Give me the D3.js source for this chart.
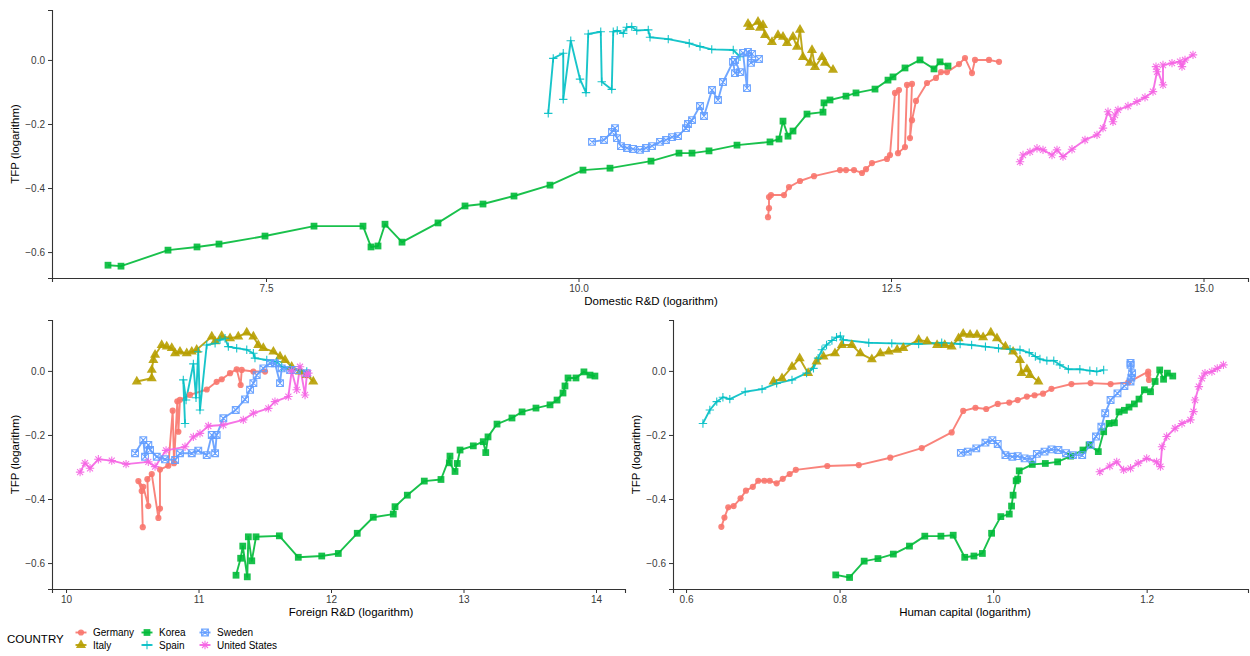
<!DOCTYPE html>
<html>
<head>
<meta charset="utf-8">
<script src="https://cdn.jsdelivr.net/npm/d3@7"></script>
<style>
  body { margin: 0; background: #fff; }
  text { font-family: "Liberation Sans", Arial, sans-serif; }
</style>
</head>
<body>
<div id="chart"></div>
<script>
// country order, colours and shapes follow the ggplot default hue palette
const countries = ["Germany", "Italy", "Korea", "Spain", "Sweden", "United States"];
const colors = ["#F8766D", "#B79F00", "#00BA38", "#00BFC4", "#619CFF", "#F564E3"];
const shapes = ["circle", "triangle", "square", "plus", "boxcross", "asterisk"];

const yTicks = [0, -0.2, -0.4, -0.6];
const domTicks = [7.5, 10, 12.5, 15];
const forTicks = [10, 11, 12, 13, 14];
const humTicks = [0.6, 0.8, 1.0, 1.2];

// ---- Domestic R&D vs TFP ----
const germanyDom = [[11.516,-0.491],[11.524,-0.463],[11.524,-0.428],[11.54,-0.422],[11.644,-0.422],[11.684,-0.397],[11.772,-0.378],[11.884,-0.363],[12.092,-0.344],[12.14,-0.344],[12.204,-0.344],[12.268,-0.353],[12.3,-0.341],[12.348,-0.322],[12.468,-0.309],[12.492,-0.297],[12.532,-0.103],[12.564,-0.094],[12.556,-0.291],[12.612,-0.272],[12.628,-0.078],[12.668,-0.075],[12.652,-0.244],[12.668,-0.188],[12.70,-0.128],[12.788,-0.072],[12.86,-0.056],[12.90,-0.038],[12.948,-0.038],[13.044,-0.013],[13.092,0.006],[13.148,-0.041],[13.172,0.0],[13.284,0.0],[13.364,-0.006]];
const italyDom = [[11.356,0.113],[11.372,0.103],[11.436,0.119],[11.452,0.1],[11.476,0.109],[11.492,0.078],[11.548,0.056],[11.596,0.078],[11.636,0.072],[11.668,0.053],[11.716,0.072],[11.748,0.041],[11.772,0.094],[11.796,0.009],[11.852,-0.009],[11.868,0.031],[11.892,-0.022],[11.948,0.009],[11.972,-0.009],[12.036,-0.031]];
const koreaDom = [[6.236,-0.641],[6.34,-0.644],[6.716,-0.594],[6.948,-0.584],[7.124,-0.575],[7.492,-0.55],[7.884,-0.519],[8.276,-0.519],[8.34,-0.584],[8.396,-0.581],[8.452,-0.513],[8.588,-0.569],[8.876,-0.509],[9.092,-0.456],[9.236,-0.45],[9.484,-0.425],[9.772,-0.391],[10.036,-0.344],[10.252,-0.338],[10.58,-0.316],[10.804,-0.291],[10.908,-0.291],[11.044,-0.284],[11.268,-0.266],[11.532,-0.256],[11.604,-0.247],[11.636,-0.191],[11.676,-0.238],[11.716,-0.222],[11.828,-0.169],[11.956,-0.163],[11.964,-0.134],[12.012,-0.125],[12.14,-0.113],[12.22,-0.103],[12.372,-0.091],[12.476,-0.063],[12.516,-0.053],[12.612,-0.025],[12.732,0.0],[12.844,-0.028],[12.892,-0.006],[12.956,-0.019]];
const spainDom = [[9.758,-0.167],[9.798,0.005],[9.878,0.021],[9.878,-0.123],[9.938,0.06],[10.012,-0.06],[10.06,-0.102],[10.078,0.081],[10.178,0.088],[10.186,-0.068],[10.266,-0.092],[10.278,0.088],[10.31,0.092],[10.358,0.083],[10.386,0.102],[10.426,0.104],[10.466,0.092],[10.558,0.094],[10.572,0.071],[10.718,0.065],[10.886,0.052],[10.972,0.042],[11.066,0.033],[11.238,0.031],[11.292,0.01]];
const swedenDom = [[10.108,-0.256],[10.204,-0.25],[10.268,-0.225],[10.292,-0.213],[10.308,-0.244],[10.34,-0.269],[10.388,-0.275],[10.436,-0.278],[10.492,-0.281],[10.54,-0.275],[10.588,-0.269],[10.652,-0.256],[10.70,-0.25],[10.748,-0.241],[10.796,-0.238],[10.86,-0.213],[10.876,-0.2],[10.908,-0.188],[10.972,-0.144],[11.004,-0.175],[11.068,-0.094],[11.116,-0.125],[11.156,-0.069],[11.236,-0.006],[11.252,-0.041],[11.292,-0.038],[11.252,0.0],[11.316,0.022],[11.348,-0.088],[11.356,0.025],[11.388,0.019],[11.38,-0.009],[11.444,0.003]];
const usDom = [[13.532,-0.318],[13.556,-0.297],[13.612,-0.287],[13.668,-0.276],[13.716,-0.281],[13.788,-0.297],[13.828,-0.281],[13.876,-0.302],[13.948,-0.279],[14.052,-0.25],[14.148,-0.234],[14.196,-0.213],[14.236,-0.162],[14.276,-0.193],[14.292,-0.172],[14.316,-0.156],[14.396,-0.144],[14.468,-0.13],[14.532,-0.117],[14.596,-0.099],[14.628,-0.037],[14.62,-0.021],[14.676,-0.078],[14.676,-0.016],[14.748,-0.01],[14.812,-0.005],[14.828,-0.021],[14.852,0.0],[14.916,0.016]];

// ---- Foreign R&D vs TFP ----
const germanyFor = [[10.579,-0.488],[10.571,-0.375],[10.546,-0.344],[10.583,-0.362],[10.621,-0.422],[10.614,-0.338],[10.647,-0.322],[10.697,-0.459],[10.709,-0.43],[10.709,-0.308],[10.772,-0.296],[10.805,-0.124],[10.815,-0.288],[10.84,-0.095],[10.848,-0.19],[10.86,-0.09],[10.936,-0.075],[11.062,-0.058],[11.137,-0.034],[11.175,-0.026],[11.238,-0.007],[11.288,0.005],[11.318,-0.044],[11.326,0.003],[11.414,-0.002],[11.502,-0.002]];
const italyFor = [[10.534,-0.033],[10.647,-0.023],[10.647,0.003],[10.659,0.034],[10.672,0.05],[10.722,0.081],[10.76,0.076],[10.798,0.071],[10.823,0.055],[10.86,0.06],[10.911,0.055],[10.949,0.06],[10.986,0.066],[11.1,0.107],[11.125,0.092],[11.175,0.109],[11.238,0.102],[11.3,0.107],[11.364,0.12],[11.414,0.107],[11.451,0.081],[11.489,0.071],[11.565,0.06],[11.615,0.045],[11.653,0.034],[11.703,0.013],[11.766,-0.002],[11.817,-0.013],[11.866,-0.033]];
const koreaFor = [[11.283,-0.638],[11.318,-0.585],[11.334,-0.547],[11.368,-0.643],[11.376,-0.518],[11.402,-0.593],[11.434,-0.518],[11.61,-0.515],[11.753,-0.582],[11.93,-0.578],[12.055,-0.57],[12.198,-0.507],[12.319,-0.457],[12.47,-0.447],[12.483,-0.424],[12.576,-0.388],[12.704,-0.344],[12.83,-0.339],[12.898,-0.266],[12.893,-0.287],[12.936,-0.314],[12.953,-0.289],[12.974,-0.247],[13.074,-0.234],[13.149,-0.221],[13.168,-0.255],[13.185,-0.206],[13.253,-0.166],[13.366,-0.147],[13.442,-0.128],[13.547,-0.116],[13.653,-0.106],[13.706,-0.091],[13.751,-0.069],[13.766,-0.047],[13.789,-0.022],[13.849,-0.022],[13.909,-0.003],[13.955,-0.013],[13.992,-0.016]];
const spainFor = [[10.898,-0.164],[10.885,-0.028],[10.906,-0.091],[10.961,0.022],[10.981,-0.084],[10.998,0.06],[11.011,-0.122],[11.062,0.081],[11.125,0.086],[11.162,0.097],[11.2,0.102],[11.225,0.076],[11.288,0.071],[11.364,0.066],[11.414,0.055],[11.426,0.04],[11.515,0.034],[11.59,0.029],[11.628,0.013],[11.691,0.008],[11.766,0.003],[11.817,-0.002]];
const swedenFor = [[10.521,-0.257],[10.583,-0.216],[10.596,-0.268],[10.621,-0.231],[10.634,-0.247],[10.685,-0.268],[10.747,-0.276],[10.823,-0.278],[10.86,-0.257],[10.949,-0.257],[10.998,-0.249],[11.062,-0.263],[11.1,-0.2],[11.125,-0.257],[11.137,-0.2],[11.187,-0.148],[11.281,-0.122],[11.351,-0.089],[11.389,-0.059],[11.414,-0.038],[11.439,-0.013],[11.489,0.008],[11.54,0.024],[11.577,0.024],[11.615,-0.038],[11.628,0.008],[11.691,0.003],[11.741,0.003],[11.817,-0.007]];
const usFor = [[10.106,-0.316],[10.143,-0.288],[10.181,-0.304],[10.244,-0.276],[10.345,-0.28],[10.453,-0.291],[10.621,-0.284],[10.672,-0.299],[10.755,-0.248],[10.898,-0.237],[10.961,-0.206],[11.011,-0.195],[11.074,-0.172],[11.187,-0.169],[11.338,-0.153],[11.414,-0.132],[11.527,-0.117],[11.577,-0.096],[11.678,-0.08],[11.703,0.0],[11.741,-0.059],[11.766,0.013],[11.804,-0.075],[11.817,-0.013],[11.829,-0.007]];

// ---- Human capital vs TFP ----
const germanyHum = [[0.646,-0.487],[0.65,-0.458],[0.655,-0.426],[0.662,-0.422],[0.671,-0.398],[0.678,-0.374],[0.687,-0.362],[0.694,-0.343],[0.702,-0.343],[0.709,-0.343],[0.718,-0.351],[0.726,-0.337],[0.735,-0.322],[0.743,-0.309],[0.784,-0.297],[0.825,-0.294],[0.866,-0.271],[0.907,-0.241],[0.946,-0.192],[0.961,-0.125],[0.977,-0.115],[0.991,-0.119],[1.006,-0.103],[1.021,-0.099],[1.032,-0.091],[1.044,-0.08],[1.054,-0.076],[1.065,-0.071],[1.076,-0.056],[1.102,-0.041],[1.127,-0.038],[1.153,-0.041],[1.176,-0.036],[1.202,-0.002],[1.203,-0.028],[1.202,-0.012]];
const italyHum = [[0.714,-0.033],[0.725,-0.023],[0.738,0.013],[0.748,0.039],[0.759,-0.007],[0.77,0.029],[0.779,0.045],[0.794,0.055],[0.803,0.081],[0.816,0.081],[0.827,0.055],[0.842,0.036],[0.853,0.055],[0.864,0.06],[0.875,0.066],[0.883,0.071],[0.903,0.097],[0.914,0.092],[0.927,0.081],[0.937,0.081],[0.946,0.076],[0.955,0.102],[0.961,0.116],[0.97,0.113],[0.979,0.113],[0.987,0.105],[0.997,0.12],[1.005,0.102],[1.016,0.076],[1.026,0.06],[1.035,0.034],[1.037,-0.007],[1.044,0.005],[1.048,-0.013],[1.059,-0.033]];
const koreaHum = [[0.795,-0.637],[0.813,-0.645],[0.832,-0.594],[0.85,-0.586],[0.87,-0.572],[0.891,-0.547],[0.911,-0.516],[0.932,-0.516],[0.948,-0.513],[0.963,-0.582],[0.975,-0.578],[0.986,-0.57],[0.998,-0.507],[1.01,-0.455],[1.021,-0.447],[1.024,-0.422],[1.026,-0.388],[1.03,-0.343],[1.032,-0.338],[1.034,-0.312],[1.051,-0.292],[1.068,-0.289],[1.084,-0.284],[1.101,-0.266],[1.117,-0.247],[1.125,-0.231],[1.137,-0.252],[1.144,-0.19],[1.151,-0.164],[1.158,-0.162],[1.164,-0.128],[1.171,-0.123],[1.177,-0.113],[1.184,-0.103],[1.19,-0.088],[1.197,-0.059],[1.205,-0.065],[1.211,-0.033],[1.217,0.003],[1.222,-0.026],[1.227,-0.007],[1.234,-0.016]];
const spainHum = [[0.622,-0.164],[0.631,-0.122],[0.64,-0.096],[0.648,-0.082],[0.657,-0.088],[0.677,-0.065],[0.699,-0.057],[0.718,-0.039],[0.738,-0.028],[0.757,-0.007],[0.766,0.008],[0.772,0.04],[0.777,0.066],[0.783,0.081],[0.79,0.095],[0.796,0.105],[0.801,0.109],[0.805,0.097],[0.838,0.088],[0.868,0.086],[0.903,0.084],[0.933,0.088],[0.957,0.084],[0.972,0.081],[0.99,0.076],[1.007,0.071],[1.022,0.068],[1.035,0.066],[1.047,0.057],[1.055,0.045],[1.061,0.037],[1.07,0.032],[1.079,0.032],[1.087,0.019],[1.098,0.005],[1.113,0.005],[1.126,0.001],[1.135,-0.002],[1.144,0.003]];
const swedenHum = [[0.958,-0.256],[0.967,-0.252],[0.978,-0.242],[0.99,-0.224],[0.999,-0.216],[1.006,-0.228],[1.016,-0.263],[1.025,-0.268],[1.032,-0.266],[1.041,-0.273],[1.051,-0.276],[1.057,-0.259],[1.067,-0.252],[1.076,-0.245],[1.085,-0.247],[1.095,-0.257],[1.104,-0.263],[1.116,-0.263],[1.127,-0.231],[1.134,-0.205],[1.141,-0.174],[1.146,-0.132],[1.153,-0.091],[1.162,-0.07],[1.171,-0.047],[1.179,-0.033],[1.181,-0.007],[1.179,0.019],[1.18,-0.021],[1.179,0.025]];
const usHum = [[1.139,-0.315],[1.152,-0.297],[1.161,-0.284],[1.17,-0.309],[1.179,-0.304],[1.189,-0.288],[1.2,-0.273],[1.213,-0.284],[1.218,-0.299],[1.22,-0.237],[1.226,-0.205],[1.237,-0.179],[1.246,-0.164],[1.257,-0.153],[1.261,-0.127],[1.263,-0.091],[1.268,-0.049],[1.272,-0.023],[1.276,-0.007],[1.285,-0.002],[1.292,0.008],[1.3,0.019]];

// panel layout (pixels) and the series each one shows
const panels = [
    { left: 52, right: 1248, top: 10, bottom: 278, xDomain: [5.788, 15.356], yDomain: [-0.681, 0.156],
      ticks: domTicks, fmt: ".1f", title: "Domestic R&D (logarithm)", titleX: 651,
      series: [germanyDom, italyDom, koreaDom, spainDom, swedenDom, usDom] },
    { left: 52, right: 625, top: 320, bottom: 589, xDomain: [9.894, 14.219], yDomain: [-0.681, 0.159],
      ticks: forTicks, fmt: "d", title: "Foreign R&D (logarithm)", titleX: 351,
      series: [germanyFor, italyFor, koreaFor, spainFor, swedenFor, usFor] },
    { left: 673, right: 1248, top: 320, bottom: 589, xDomain: [0.583, 1.332], yDomain: [-0.681, 0.159],
      ticks: humTicks, fmt: ".1f", title: "Human capital (logarithm)", titleX: 965,
      series: [germanyHum, italyHum, koreaHum, spainHum, swedenHum, usHum] }
];

const svg = d3.select("#chart").append("svg")
    .attr("width", 1250)
    .attr("height", 656);

// marker drawing
function markerPath(shape) {
    if (shape === "circle") return d3.symbol(d3.symbolCircle, 30)();
    if (shape === "triangle") return d3.symbol(d3.symbolTriangle, 44)();
    if (shape === "square") return d3.symbol(d3.symbolSquare, 46)();
    let r = 4.2, q = 3;
    if (shape === "plus") return `M${-r},0H${r}M0,${-r}V${r}`;
    if (shape === "boxcross") return `M-3.4,-3.4H3.4V3.4H-3.4ZM-3.4,-3.4L3.4,3.4M3.4,-3.4L-3.4,3.4`;
    return `M${-r},0H${r}M0,${-r}V${r}M${-q},${-q}L${q},${q}M${q},${-q}L${-q},${q}`;
}
function isFilled(shape) {
    return shape === "circle" || shape === "triangle" || shape === "square";
}
function drawMarker(sel, i) {
    let filled = isFilled(shapes[i]);
    sel.append("path")
        .attr("d", markerPath(shapes[i]))
        .attr("fill", filled ? colors[i] : "none")
        .attr("stroke", colors[i])
        .attr("stroke-width", filled ? 0 : 1.1)
        .attr("opacity", 0.9);
}

panels.forEach(p => {
    let x = d3.scaleLinear().domain(p.xDomain).range([p.left, p.right]);
    let y = d3.scaleLinear().domain(p.yDomain).range([p.bottom, p.top]);

    let g = svg.append("g");

    // axes
    let xAxis = g.append("g")
        .attr("transform", "translate(0," + p.bottom + ")")
        .call(d3.axisBottom(x).tickValues(p.ticks).tickFormat(d3.format(p.fmt)).tickSizeOuter(0).tickSize(4).tickPadding(3));
    let yAxis = g.append("g")
        .attr("transform", "translate(" + p.left + ",0)")
        .call(d3.axisLeft(y).tickValues(yTicks).tickFormat(d3.format(".1f")).tickSizeOuter(0).tickSize(4).tickPadding(3));

    [xAxis, yAxis].forEach(a => {
        a.select(".domain").attr("stroke", "#333").attr("stroke-width", 1.1);
        a.selectAll(".tick line").attr("stroke", "#333");
        a.selectAll(".tick text").attr("fill", "#3a3a3a").attr("font-size", 10)
            .attr("font-family", "Liberation Sans, Arial, sans-serif");
    });

    // axis titles
    g.append("text")
        .attr("x", p.titleX)
        .attr("y", p.bottom + 27)
        .attr("text-anchor", "middle")
        .attr("font-size", 11.5)
        .text(p.title);
    g.append("text")
        .attr("transform", "translate(" + (p.left - 33) + "," + ((p.top + p.bottom) / 2) + ") rotate(-90)")
        .attr("text-anchor", "middle")
        .attr("font-size", 11.5)
        .text("TFP (logarithm)");

    let line = d3.line().x(d => x(d[0])).y(d => y(d[1]));

    // lines then markers, in country order
    p.series.forEach((s, i) => {
        g.append("path")
            .datum(s)
            .attr("d", line)
            .attr("fill", "none")
            .attr("stroke", colors[i])
            .attr("stroke-width", 1.9)
            .attr("stroke-linejoin", "round")
            .attr("opacity", 0.9);
    });
    p.series.forEach((s, i) => {
        g.append("g").selectAll("g")
            .data(s)
            .enter()
            .append("g")
            .attr("transform", d => "translate(" + x(d[0]) + "," + y(d[1]) + ")")
            .each(function() { drawMarker(d3.select(this), i); });
    });
});

// legend
let legend = svg.append("g");
legend.append("text")
    .attr("x", 7)
    .attr("y", 643)
    .attr("font-size", 11.5)
    .text("COUNTRY");

let colX = [81, 147, 205];
countries.forEach((c, i) => {
    let cx = colX[Math.floor(i / 2)];
    let cy = i % 2 === 0 ? 632.5 : 645;
    let key = legend.append("g").attr("transform", "translate(" + cx + "," + cy + ")");
    key.append("line")
        .attr("x1", -5.5).attr("x2", 5.5)
        .attr("stroke", colors[i])
        .attr("stroke-width", 1.9)
        .attr("opacity", 0.9);
    drawMarker(key, i);
    legend.append("text")
        .attr("x", cx + 12)
        .attr("y", cy + 3.5)
        .attr("font-size", 10)
        .text(c);
});
</script>
</body>
</html>
